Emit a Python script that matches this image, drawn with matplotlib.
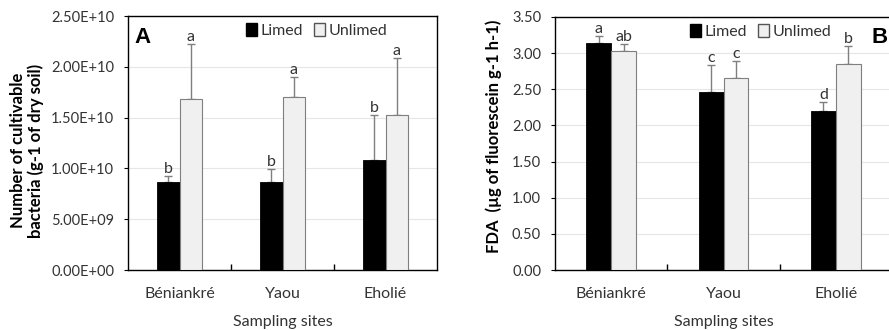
import numpy as np
import matplotlib
matplotlib.use('Agg')
import matplotlib.pyplot as plt
import matplotlib.ticker as mtick
from matplotlib.patches import Patch

plt.rcParams['font.family'] = ['Lato', 'DejaVu Sans']

sites = ['Béniankré', 'Yaou', 'Eholié']

# Panel A: cultivable bacteria (g-1 of dry soil)
bact_limed = [8.63e9, 8.63e9, 1.079e10]
bact_limed_err = [0.65e9, 1.27e9, 4.5e9]
bact_unlimed = [1.686e10, 1.70e10, 1.522e10]
bact_unlimed_err = [5.38e9, 2.03e9, 5.68e9]
bact_letters_limed = ['b', 'b', 'b']
bact_letters_unlimed = ['a', 'a', 'a']

# Panel B: FDA (µg of fluorescein g-1 h-1)
fda_limed = [3.14, 2.46, 2.20]
fda_limed_err = [0.10, 0.37, 0.13]
fda_unlimed = [3.035, 2.65, 2.85]
fda_unlimed_err = [0.085, 0.24, 0.25]
fda_letters_limed = ['a', 'c', 'd']
fda_letters_unlimed = ['ab', 'c', 'b']

txt = '#333333'
w = 0.22


def draw(ax, limed, limed_err, unlimed, unlimed_err, let_l, let_u, ymax, step, fmt):
    x = np.arange(len(sites))
    ax.set_axisbelow(True)
    ax.bar(x - w / 2, limed, w, color='black', edgecolor='black', lw=0.6, zorder=3)
    ax.bar(x + w / 2, unlimed, w, color='#f0f0f0', edgecolor='#7f7f7f', lw=0.8, zorder=3)
    for xs, ys, es, ls in [(x - w / 2, limed, limed_err, let_l), (x + w / 2, unlimed, unlimed_err, let_u)]:
        ax.errorbar(xs, ys, yerr=[np.zeros(len(ys)), es], fmt='none', ecolor='#7f7f7f',
                    elinewidth=1, capsize=3, capthick=1, zorder=2)
        for xi, yi, ei, li in zip(xs, ys, es, ls):
            ax.annotate(li, (xi, yi + ei), xytext=(0, 0), textcoords='offset points',
                        ha='center', va='bottom', fontsize=11.5, color=txt)
    ax.set_xlim(-0.5, 2.5)
    ax.set_ylim(0, ymax)
    ax.yaxis.set_major_locator(mtick.MultipleLocator(step))
    ax.yaxis.set_major_formatter(mtick.FuncFormatter(fmt))
    ax.grid(axis='y', color='#e6e6e6', lw=0.8)
    ax.set_xticks(x)
    ax.set_xticklabels(sites)
    ax.tick_params(axis='x', length=0, pad=12, labelsize=11.5, labelcolor=txt)
    ax.set_xticks([0.5, 1.5], minor=True)
    ax.tick_params(axis='x', which='minor', direction='in', length=4, width=1)
    ax.tick_params(axis='y', direction='out', length=3, labelsize=10.5, labelcolor=txt, pad=7)
    for s in ax.spines.values():
        s.set_linewidth(1)
    ax.set_xlabel('Sampling sites', fontsize=11.5, color=txt, labelpad=10)
    handles = [Patch(facecolor='black', edgecolor='black'),
               Patch(facecolor='#f0f0f0', edgecolor='#555555')]
    ax.legend(handles, ['Limed', 'Unlimed'], ncol=2, frameon=False, loc='upper center',
              bbox_to_anchor=(0.61, 1.03), handlelength=0.7, handleheight=0.9,
              handletextpad=0.2, columnspacing=0.7, fontsize=11.5, labelcolor=txt)


fig = plt.figure(figsize=(8.89, 3.3), dpi=100)
axA = fig.add_axes([128 / 889, 60 / 330, 309 / 889, 254 / 330])
axB = fig.add_axes([555 / 889, 60 / 330, 337 / 889, 253 / 330])

draw(axA, bact_limed, bact_limed_err, bact_unlimed, bact_unlimed_err,
     bact_letters_limed, bact_letters_unlimed, 2.5e10, 5e9, lambda v, p: f'{v:.2E}')
draw(axB, fda_limed, fda_limed_err, fda_unlimed, fda_unlimed_err,
     fda_letters_limed, fda_letters_unlimed, 3.5, 0.5, lambda v, p: f'{v:.2f}')

axA.set_ylabel('Number of cultivable\nbacteria (g-1 of dry soil)', fontsize=12,
               fontweight='bold', linespacing=1.1)
axA.yaxis.set_label_coords(-0.272, 0.47)
axB.set_ylabel('FDA  (µg of fluorescein g-1 h-1)', fontsize=12, fontweight='bold')
axB.yaxis.set_label_coords(-0.157, 0.53)
axA.text(0.02, 0.955, 'A', transform=axA.transAxes, fontsize=16, fontweight='bold',
         va='top', ha='left', family='Liberation Sans')
axB.text(0.94, 0.96, 'B', transform=axB.transAxes, fontsize=16, fontweight='bold',
         va='top', ha='left', family='Liberation Sans')

fig.savefig('out.png', dpi=100)
